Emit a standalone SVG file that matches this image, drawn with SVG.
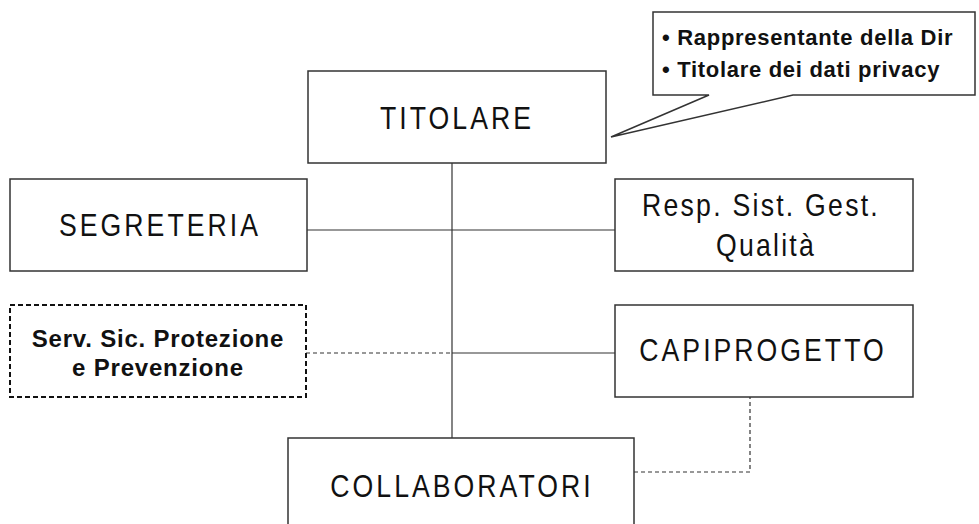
<svg xmlns="http://www.w3.org/2000/svg" width="979" height="524" viewBox="0 0 979 524">
<style>
.box{fill:#fff;stroke:#333;stroke-width:1.5}
.dbox{fill:#fff;stroke:#111;stroke-width:2;stroke-dasharray:5,3}
.ln{fill:none;stroke:#333;stroke-width:1.2}
.dl{fill:none;stroke:#333;stroke-width:1.2;stroke-dasharray:4,3}
.t{font-family:"Liberation Sans",Arial,sans-serif;font-size:31px;letter-spacing:3.5px;fill:#111;text-anchor:middle}
.b{font-family:"Liberation Sans",Arial,sans-serif;font-size:24px;font-weight:bold;letter-spacing:0.8px;fill:#111;text-anchor:middle}
.c{font-family:"Liberation Sans",Arial,sans-serif;font-size:22px;font-weight:bold;letter-spacing:0.7px;fill:#111}
</style>
<rect width="979" height="524" fill="#fff"/>
<g id="connectors">
<line class="ln" x1="452" y1="163" x2="452" y2="438"/>
<line class="ln" x1="307" y1="230" x2="615" y2="230"/>
<line class="ln" x1="452" y1="353" x2="615" y2="353"/>
<line class="dl" x1="306" y1="353" x2="452" y2="353"/>
<polyline class="dl" points="634,472 750,472 750,397"/>
</g>
<g id="titolare">
<rect class="box" x="308" y="71" width="298" height="92"/>
<text class="t" transform="translate(457,129) scale(0.86,1)">TITOLARE</text>
</g>
<g id="callout">
<polygon class="box" points="653,12 975,12 975,95 793,95 611,137 709,95 653,95"/>
<text class="c" x="662" y="45">• Rappresentante della Dir</text>
<text class="c" x="662" y="77">• Titolare dei dati privacy</text>
</g>
<g id="segreteria">
<rect class="box" x="10" y="179" width="297" height="92"/>
<text class="t" transform="translate(160,236) scale(0.86,1)">SEGRETERIA</text>
</g>
<g id="resp">
<rect class="box" x="615" y="179" width="298" height="92"/>
<text class="t" transform="translate(761,216) scale(0.86,1)" style="letter-spacing:2.6px">Resp. Sist. Gest.</text>
<text class="t" transform="translate(766,256) scale(0.86,1)" style="letter-spacing:2.6px">Qualità</text>
</g>
<g id="serv">
<rect class="dbox" x="10" y="305" width="296" height="92"/>
<text class="b" x="158" y="347">Serv. Sic. Protezione</text>
<text class="b" x="158" y="376">e Prevenzione</text>
</g>
<g id="capiprogetto">
<rect class="box" x="615" y="305" width="298" height="92"/>
<text class="t" transform="translate(763,361) scale(0.86,1)">CAPIPROGETTO</text>
</g>
<g id="collaboratori">
<rect class="box" x="288" y="438" width="346" height="100"/>
<text class="t" transform="translate(462,497) scale(0.86,1)">COLLABORATORI</text>
</g>
</svg>
